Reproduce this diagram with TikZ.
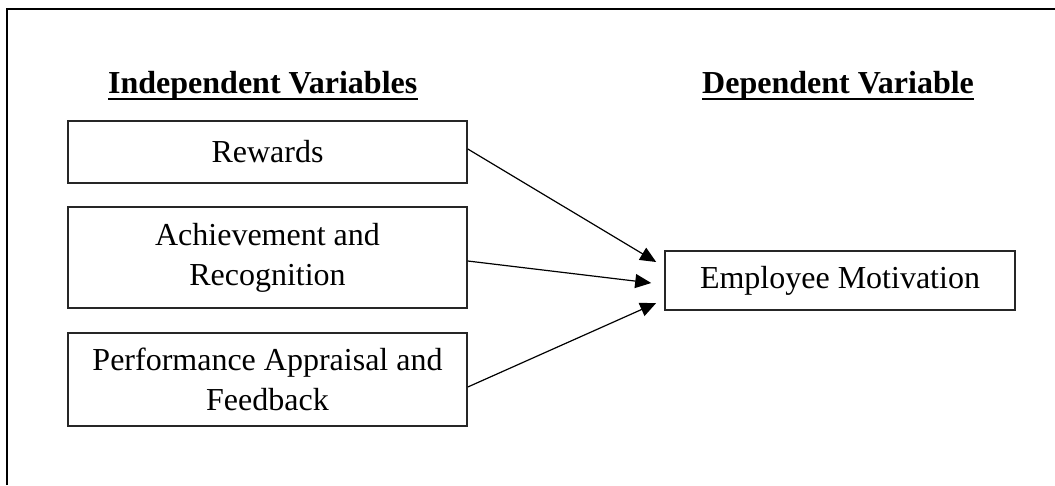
\documentclass[tikz,border=0pt]{standalone}
\usepackage{fontspec}
\setmainfont{Liberation Serif}
\usetikzlibrary{arrows.meta}
\begin{document}
\begin{tikzpicture}[x=1pt,y=-1pt,
  varbox/.style={draw=black!85,line width=1.6pt,minimum width=399pt,align=center,
    font=\fontsize{32}{40}\selectfont,inner sep=0pt},
  heading/.style={inner sep=0pt,anchor=base west,font=\fontsize{32}{40}\selectfont\bfseries},
  uline/.style={line width=2.5pt},
  link/.style={line width=1.2pt,-{Triangle[length=16pt,width=14pt]}}]
\useasboundingbox (0,0) rectangle (1055,485);
\draw[line width=2.6pt] (7,485) -- (7,9) -- (1055,9);
\node[heading] (ih) at (108,93) {Independent Variables};
\node[heading] (dh) at (702,93) {Dependent Variable};
\draw[uline] ([yshift=-6pt]ih.base west) -- ([yshift=-6pt]ih.base east);
\draw[uline] ([yshift=-6pt]dh.base west) -- ([yshift=-6pt]dh.base east);
\node[varbox,minimum height=62pt] (r) at (267.5,152) {Rewards};
\node[varbox,minimum height=101pt] (a) at (267.5,257.5) {Achievement and\\Recognition};
\node[varbox,minimum height=93pt] (p) at (267.5,379.5) {Performance Appraisal and\\Feedback};
\node[varbox,minimum width=350pt,minimum height=59pt] (e) at (840,280.5) {Employee Motivation};
\draw[link] ([yshift=3pt]r.east) -- ([xshift=-8pt,yshift=18.5pt]e.west);
\draw[link] ([yshift=-3.5pt]a.east) -- ([xshift=-13pt,yshift=-2.5pt]e.west);
\draw[link] ([yshift=-7.5pt]p.east) -- ([xshift=-8pt,yshift=-22.5pt]e.west);
\end{tikzpicture}
\end{document}
